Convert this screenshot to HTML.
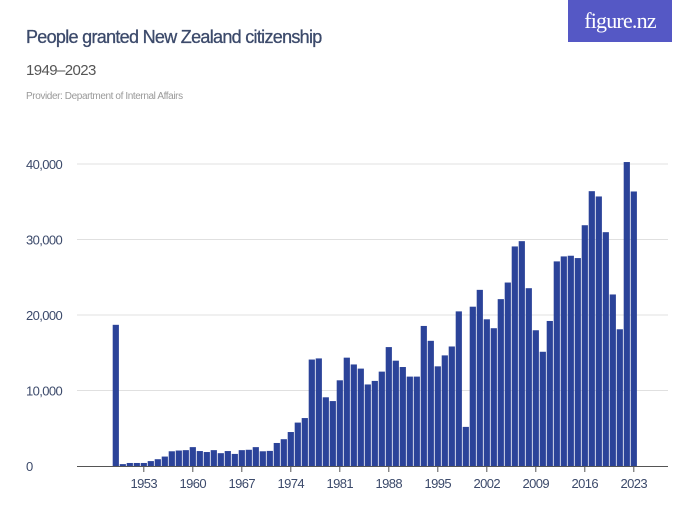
<!DOCTYPE html>
<html><head><meta charset="utf-8"><style>
body{margin:0;background:#fff;}
svg text{font-family:"Liberation Sans",sans-serif;}
</style></head><body>
<svg id="chart" width="700" height="525" xmlns="http://www.w3.org/2000/svg">
<text x="26" y="43" font-size="18" fill="#3c4a6b" letter-spacing="-0.7" stroke="#3c4a6b" stroke-width="0.3">People granted New Zealand citizenship</text>
<text x="26" y="75" font-size="15" fill="#555" letter-spacing="-0.6">1949–2023</text>
<text x="26" y="99" font-size="10" fill="#999" letter-spacing="-0.4">Provider: Department of Internal Affairs</text>
<g>
<rect x="568" y="0" width="104" height="42" fill="#5558c5"/>
<text x="620" y="28" font-size="22" fill="#fff" text-anchor="middle" style="font-family:'Liberation Serif',serif" letter-spacing="-0.8">figure.nz</text>
</g>
<g id="grid"></g><g id="bars"></g><g id="axis"></g>
</svg>
<script>
const years=[];for(let y=1949;y<=2023;y++)years.push(y);
const values=[18700,250,400,400,400,650,900,1250,1950,2050,2100,2500,1980,1850,2100,1700,1980,1600,2100,2150,2500,1950,2000,3050,3550,4500,5750,6350,14100,14250,9100,8600,11350,14350,13450,12900,10800,11270,12500,15750,13950,13110,11840,11840,18550,16580,13200,14650,15830,20480,5180,21100,23330,19430,18250,22100,24300,29080,29780,23550,17980,15130,19210,27100,27760,27850,27540,31890,36400,35700,30970,22720,18110,40260,36360];
const yTicks=[0,10000,20000,30000,40000];
const yTickLabels=["0","10,000","20,000","30,000","40,000"];
const xTickYears=[1953,1960,1967,1974,1981,1988,1995,2002,2009,2016,2023];
const NS="http://www.w3.org/2000/svg";
const y0=466,yScale=302/40000;
function ys(v){return y0-v*yScale;}
const step=7.0,bw=6.2,x0=112.7;
function xs(yr){return x0+(yr-1949)*step;}
const grid=document.getElementById('grid'),bars=document.getElementById('bars'),axis=document.getElementById('axis');
function mk(tag,attrs,parent){const e=document.createElementNS(NS,tag);for(const k in attrs)e.setAttribute(k,attrs[k]);parent.appendChild(e);return e;}
yTicks.forEach((t,i)=>{
 if(t>0){const l=mk('line',{x1:77,x2:668,y1:ys(t),y2:ys(t),stroke:'#e0e0e0','stroke-width':1},grid);
 
 }
 const tx=mk('text',{x:26,y:ys(t)+5,'font-size':13,fill:'#3c4a6b','letter-spacing':'-0.6'},grid);
 tx.textContent=yTickLabels[i];
 
 
});
years.forEach((yr,i)=>{
 const r=mk('rect',{x:xs(yr),y:ys(values[i]),width:bw,height:values[i]*yScale,fill:'#2b4399'},bars);
 
 
});
const ax=mk('line',{x1:77,x2:668,y1:y0+0.5,y2:y0+0.5,stroke:'#555','stroke-width':1},axis);


xTickYears.forEach(yr=>{
 const cx=xs(yr)+bw/2;
 const tk=mk('line',{x1:cx,x2:cx,y1:y0,y2:y0+6,stroke:'#555','stroke-width':1},axis);
 
 
 const t=mk('text',{x:cx,y:y0+22,'font-size':13,fill:'#3c4a6b','text-anchor':'middle','letter-spacing':'-0.6'},axis);
 t.textContent=yr;
 
 
});
</script>
</body></html>
